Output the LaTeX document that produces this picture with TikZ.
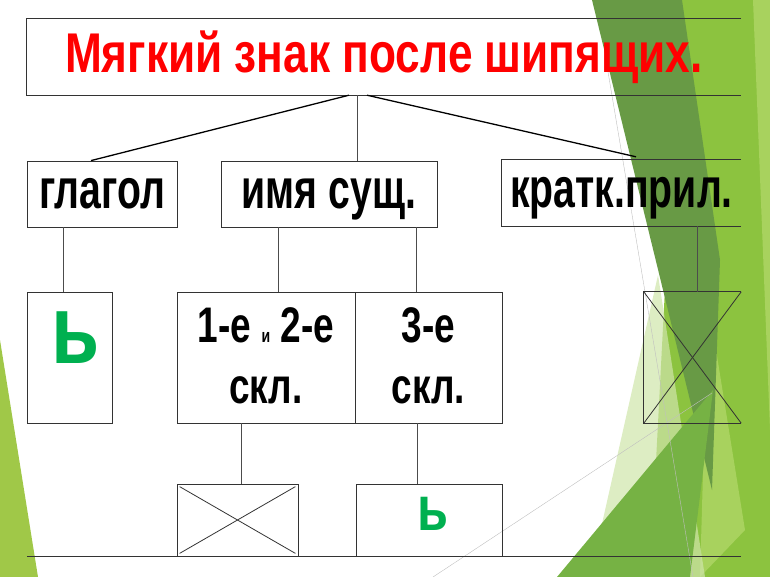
\documentclass[tikz,border=0pt]{standalone}
\usepackage{fontspec}
\setmainfont{Liberation Sans}
\newfontfamily\titlefont[FakeStretch=0.79]{Liberation Sans}
\newfontfamily\wordfont[FakeStretch=0.70]{Liberation Sans}
\newfontfamily\declfont[FakeStretch=0.74]{Liberation Sans}
\newfontfamily\signfont[FakeStretch=0.8]{Liberation Sans}
\usetikzlibrary{positioning}

\definecolor{titlered}{RGB}{255,0,0}
\definecolor{softsign}{RGB}{0,176,80}
\definecolor{facetlime}{RGB}{160,200,72}
\definecolor{facetgreen}{RGB}{140,195,63}
\definecolor{facetlight}{RGB}{168,210,94}
\definecolor{facetdark}{RGB}{104,154,69}
\definecolor{facetmid}{RGB}{118,178,68}
\definecolor{facetpale}{RGB}{207,229,170}

\tikzset{
  frame/.style={draw=black!80, line width=0.8pt, inner sep=0pt},
  openframe/.style={inner sep=0pt},
  edge/.style={draw=black!80, line width=0.8pt},
  link/.style={draw=black!70, line width=0.7pt},
  branch/.style={draw=black, line width=1.3pt},
  word/.style={font=\wordfont\bfseries\fontsize{56}{60}\selectfont, text height=29pt, text depth=0pt},
  decl/.style={font=\declfont\bfseries\fontsize{50}{61}\selectfont, align=center},
  sign/.style={text=softsign}
}

\begin{document}
\begin{tikzpicture}[x=1pt, y=-1pt]
\useasboundingbox (0,0) rectangle (770,577);

%background
\fill[facetlime] (0,340) -- (38,577) -- (0,577) -- cycle;
\fill[facetgreen] (680,0) -- (770,0) -- (770,577) -- (650,577) -- cycle;
\fill[facetlight] (753,0) -- (770,0) -- (770,430) -- cycle;
\fill[facetlight] (708,300) -- (745,530) -- (700,577) -- cycle;
\fill[facetpale, opacity=0.7] (590,577) -- (658,275) -- (705,577) -- cycle;
\fill[facetdark] (592,0) -- (682,0) -- (720,260) -- (712,490) -- cycle;
\fill[facetmid] (557,577) -- (713,390) -- (690,577) -- cycle;
\draw[black!25, line width=0.4pt] (606,60) -- (693,577);
\draw[black!25, line width=0.4pt] (433,577) -- (712,393);

%title
\node[openframe, minimum width=714pt, minimum height=76pt, text=titlered,
  font=\titlefont\bfseries\fontsize{56}{60}\selectfont, text height=40pt, text depth=8pt]
  (title) at (384,57) {Мягкий знак после шипящих.};
\draw[edge] (title.north east) -- (title.north west) -- (title.south west) -- (title.south east);

%parts of speech
\node[frame, word, minimum width=150pt, minimum height=66pt] (verb) at (102,194) {глагол};
\node[frame, word, minimum width=216pt, minimum height=66pt] (noun) at (329,194) {имя сущ.};
\node[openframe, word, minimum width=239pt, minimum height=66pt] (adj) at (621.5,193) {кратк.прил.};
\draw[edge] (adj.north east) -- (adj.north west) -- (adj.south west) -- (adj.south east);

\draw[branch] ([xshift=-35pt]title.south) -- ([xshift=-11pt]verb.north);
\draw[link] ([xshift=-27pt]title.south) -- ([xshift=28pt]noun.north);
\draw[branch] ([xshift=-17pt]title.south) -- ([xshift=14.5pt, yshift=3pt]adj.north);

%second row
\node[frame, sign, minimum width=85pt, minimum height=131pt,
  font=\signfont\bfseries\fontsize{98}{100}\selectfont, text height=51pt, text depth=40pt]
  (verbsign) at (69.5,357.5) {\hspace*{13pt}ь};
\node[frame, decl, minimum width=178pt, minimum height=131pt] (decl12) at (266,357.5)
  {\raisebox{4pt}{1-е {\fontsize{19}{19}\selectfont и} 2-е}\\\raisebox{4pt}{скл.}};
\node[frame, decl, minimum width=147pt, minimum height=131pt] (decl3) at (428.5,357.5)
  {\raisebox{4pt}{3-е}\\\raisebox{4pt}{скл.}};
\node[openframe, minimum width=97pt, minimum height=131pt] (adjno) at (692.5,357.5) {};
\draw[edge] (adjno.north east) -- (adjno.north west) -- (adjno.south west) -- (adjno.south east);
\draw[edge] (adjno.north west) -- (adjno.south east);
\draw[edge] (adjno.south west) -- (adjno.north east);

\draw[link] ([xshift=-39pt]verb.south) -- ([xshift=-39pt]verb.south |- verbsign.north);
\draw[link] ([xshift=-51pt]noun.south) -- ([xshift=-51pt]noun.south |- decl12.north);
\draw[link] ([xshift=87pt]noun.south) -- ([xshift=87pt]noun.south |- decl3.north);
\draw[link] ([xshift=75.5pt]adj.south) -- ([xshift=75.5pt]adj.south |- adjno.north);

%third row
\node[frame, minimum width=121pt, minimum height=72pt] (declno) at (237.5,520) {};
\draw[edge] ([shift={(3pt,-3pt)}]declno.north west) -- ([shift={(-3pt,3pt)}]declno.south east);
\draw[edge] ([shift={(3pt,3pt)}]declno.south west) -- ([shift={(-3pt,-3pt)}]declno.north east);
\node[frame, sign, minimum width=146pt, minimum height=72pt,
  font=\signfont\bfseries\fontsize{63}{65}\selectfont, text height=33pt, text depth=13pt]
  (declsign) at (429,520) {\hspace*{7pt}ь};

\draw[link] ([xshift=-25pt]decl12.south) -- ([xshift=-25pt]decl12.south |- declno.north);
\draw[link] ([xshift=-11.5pt]decl3.south) -- ([xshift=-11.5pt]decl3.south |- declsign.north);

\draw[edge] (27,556) -- (741,556);
\end{tikzpicture}
\end{document}
